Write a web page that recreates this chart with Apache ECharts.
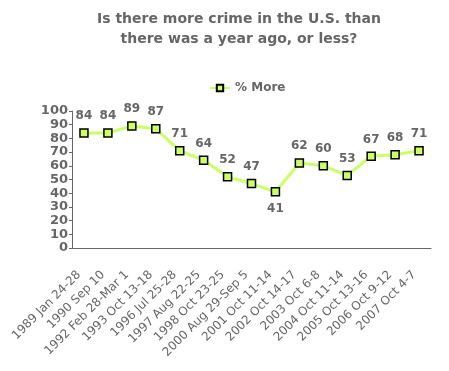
<!DOCTYPE html>
<html><head><meta charset="utf-8">
<script src="https://cdn.jsdelivr.net/npm/echarts@6/dist/echarts.min.js"></script>
<style>html,body{margin:0;padding:0;background:#fff}#c{width:449px;height:371px}</style>
</head><body><div id="c"></div>
<script>
var categories = ["1989 Jan 24-28","1990 Sep 10","1992 Feb 28-Mar 1","1993 Oct 13-18","1996 Jul 25-28","1997 Aug 22-25","1998 Oct 23-25","2000 Aug 29-Sep 5","2001 Oct 11-14","2002 Oct 14-17","2003 Oct 6-8","2004 Oct 11-14","2005 Oct 13-16","2006 Oct 9-12","2007 Oct 4-7"];
var moreValues = [84,84,89,87,71,64,52,47,41,62,60,53,67,68,71];
var belowIdx = [8];
var yTicks = [0,10,20,30,40,50,60,70,80,90,100];

var FONT = 'DejaVu Sans, Verdana, sans-serif';
var chart = echarts.init(document.getElementById('c'));
chart.setOption({
  animation:false,
  title:{text:"Is there more crime in the U.S. than\nthere was a year ago, or less?",left:234,textAlign:'center',top:4,
    textStyle:{fontFamily:FONT,fontSize:14,fontWeight:'bold',color:'#666',lineHeight:20}},
  legend:{top:77,left:204,itemWidth:20,itemHeight:8,itemGap:4,
    lineStyle:{width:2,color:'#ccff66'},
    textStyle:{fontFamily:FONT,fontSize:12,fontWeight:'bold',color:'#666'},
    data:['% More']},
  grid:{left:72,right:18,top:111,bottom:123,containLabel:false},
  xAxis:{type:'category',data:categories,boundaryGap:true,
    axisLine:{lineStyle:{color:'#666',width:1}},axisTick:{show:false},
    axisLabel:{rotate:45,interval:0,fontFamily:FONT,fontSize:12,color:'#666',margin:20,padding:[0,7,0,0]}},
  yAxis:{type:'value',min:0,max:100,interval:10,
    axisLine:{show:true,lineStyle:{color:'#666',width:1}},axisTick:{show:true,length:3,lineStyle:{color:'#666'}},
    splitLine:{show:false},
    axisLabel:{fontFamily:FONT,fontSize:13,fontWeight:'bold',color:'#666',margin:4,
      formatter:function(v){return yTicks.indexOf(v)>=0?String(v):'';}}},
  series:[{name:'% More',type:'line',data:moreValues.map(function(v,i){
      return belowIdx.indexOf(i)>=0?{value:v,label:{position:'bottom',distance:6}}:v;}),
    lineStyle:{color:'#ccff66',width:3},
    itemStyle:{color:'#ccff66',borderColor:'#000',borderWidth:1.5},
    symbol:'rect',symbolSize:8,showAllSymbol:true,
    label:{show:true,position:'top',distance:6,fontFamily:FONT,fontSize:12,fontWeight:'bold',color:'#666'}
  }]
});
</script></body></html>
